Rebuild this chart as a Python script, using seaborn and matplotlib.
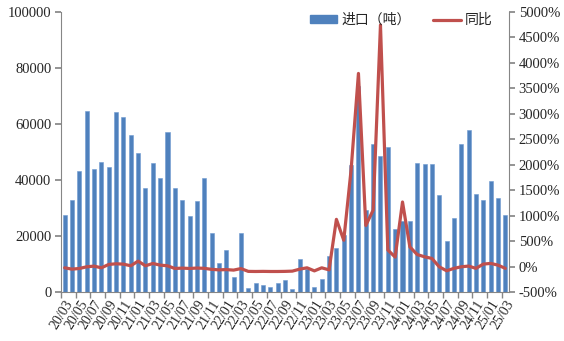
import numpy as np
import pandas as pd
import matplotlib
matplotlib.use("Agg")
import matplotlib.pyplot as plt
import seaborn as sns
from matplotlib.patches import Patch
from matplotlib.lines import Line2D
from matplotlib.ticker import FuncFormatter, MultipleLocator

months = [
    "20/03", "20/04", "20/05", "20/06", "20/07", "20/08", "20/09", "20/10", "20/11", "20/12",
    "21/01", "21/02", "21/03", "21/04", "21/05", "21/06", "21/07", "21/08", "21/09", "21/10",
    "21/11", "21/12", "22/01", "22/02", "22/03", "22/04", "22/05", "22/06", "22/07", "22/08",
    "22/09", "22/10", "22/11", "22/12", "23/01", "23/02", "23/03", "23/04", "23/05", "23/06",
    "23/07", "23/08", "23/09", "23/10", "23/11", "23/12", "24/01", "24/02", "24/03", "24/04",
    "24/05", "24/06", "24/07", "24/08", "24/09", "24/10", "24/11", "24/12", "25/01", "25/02",
    "25/03",
]

imports_t = [
    27500, 32800, 43200, 64500, 43900, 46500, 44500, 64200, 62600, 56200,
    49800, 37300, 46000, 40600, 57300, 37300, 32800, 27200, 32500, 40800,
    21000, 10300, 15000, 5500, 21300, 1500, 3200, 2500, 2000, 3200,
    4500, 1000, 11700, 8200, 2000, 4700, 12800, 15800, 20400, 45200,
    73600, 29200, 52900, 48500, 51700, 22500, 25300, 25300, 46200, 45900,
    45900, 34800, 18300, 26600, 52700, 57700, 35000, 32900, 39600, 33600,
    27600,
]

yoy_pct = [
    -20, -46, -33, 0, 13, -20, 46, 59, 52, 20,
    111, 20, 65, 33, 20, -33, -26, -33, -25, -30,
    -50, -60, -55, -65, -35, -90, -92, -90, -92, -92,
    -90, -85, -46, -20, -80, -20, -60, 930, 520, 1900,
    3790, 810, 1110, 4740, 330, 190, 1270, 390, 240, 196,
    164, 0, -78, -31, 0, 14, -31, 53, 66, 33,
    -31,
]

legend_labels = ["进口（吨）", "同比"]

bar_color = "#4F81BD"
line_color = "#C0504D"
axis_color = "#868686"

sns.set_theme(style="white")
plt.rcParams["font.family"] = ["Liberation Serif", "Noto Sans CJK SC", "DejaVu Sans"]

n = len(months)
df = pd.DataFrame({"month": months, "imports": imports_t, "yoy": yoy_pct, "pos": np.arange(n)})

fig = plt.figure(figsize=(5.64, 3.41), dpi=100)
ax1 = fig.add_axes([61 / 564, 1 - 292.3 / 341, (509 - 61) / 564, (292.3 - 11.7) / 341])

sns.barplot(data=df, x="month", y="imports", color=bar_color, width=0.55,
            saturation=1, ax=ax1, edgecolor="#6F9BD1", linewidth=0.4)
ax1.set_xlim(-0.5, n - 0.5)
ax1.set_ylim(0, 100000)
ax1.yaxis.set_major_locator(MultipleLocator(20000))
ax1.set_xlabel("")
ax1.set_ylabel("")

ax2 = ax1.twinx()
sns.lineplot(data=df, x="pos", y="yoy", color=line_color, linewidth=2.3, ax=ax2,
             solid_joinstyle="round", solid_capstyle="round")
ax2.set_ylim(-500, 5000)
ax2.yaxis.set_major_locator(MultipleLocator(500))
ax2.yaxis.set_major_formatter(FuncFormatter(lambda v, p: f"{int(round(v))}%"))
ax2.set_xlim(-0.5, n - 0.5)
ax2.set_xlabel("")
ax2.set_ylabel("")

# x ticks: labels at every 2nd category, tick marks at category boundaries
ax1.set_xticks(np.arange(0, n, 2))
ax1.set_xticklabels(months[::2], rotation=58, ha="right", va="top",
                    rotation_mode="anchor", fontsize=10)
ax1.set_xticks(np.arange(-0.5, n, 2), minor=True)
ax1.tick_params(axis="x", which="major", length=0, pad=4)
ax1.tick_params(axis="x", which="minor", length=4, color=axis_color, direction="out", bottom=True)
ax1.tick_params(axis="y", which="major", length=4, color=axis_color, direction="out",
                labelsize=10.5, left=True, pad=3)
ax2.tick_params(axis="y", which="major", length=4, color=axis_color, direction="out",
                labelsize=10.5, right=True, pad=3)

for ax in (ax1, ax2):
    ax.spines["top"].set_visible(False)
    for side in ("left", "right", "bottom"):
        ax.spines[side].set_color(axis_color)
        ax.spines[side].set_linewidth(0.8)
ax1.spines["right"].set_visible(False)
ax2.spines["left"].set_visible(False)
ax2.spines["bottom"].set_visible(False)
ax1.grid(False)
ax2.grid(False)
if ax2.get_legend():
    ax2.get_legend().remove()

handles = [Patch(facecolor=bar_color, edgecolor=bar_color),
           Line2D([0], [0], color=line_color, linewidth=2.3)]
fig.legend(handles, legend_labels, loc="center left", bbox_to_anchor=(297 / 564, 1 - 20 / 341),
           ncol=2, frameon=False, handlelength=2.0, handleheight=0.45, columnspacing=1.6,
           handletextpad=0.3, prop={"family": ["Noto Sans CJK SC"], "size": 10})

fig.savefig("out.png", dpi=100)
